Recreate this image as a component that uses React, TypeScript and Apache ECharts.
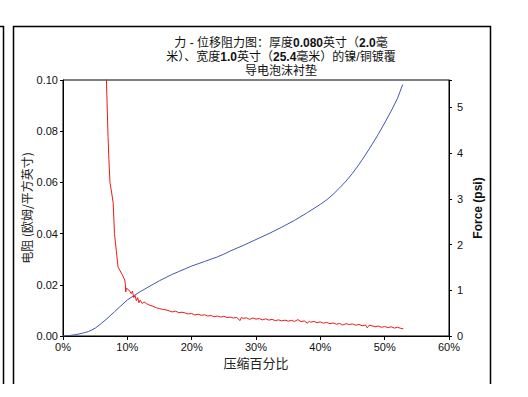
import React, { useEffect, useRef } from "react";
import * as echarts from "echarts";

// Force (psi) vs % compression — right axis
const forcePct = [0, 1, 2, 3, 4, 5, 6, 7, 8, 9, 10, 11, 12, 13, 14, 15, 16, 17, 18, 19, 20, 21, 22, 23, 24, 25, 26, 28, 30, 32, 34, 36, 38, 40, 41, 42, 43, 44, 45, 46, 47, 48, 49, 50, 51, 52, 52.8];
const forceVal = [0, 0.01, 0.03, 0.06, 0.1, 0.17, 0.28, 0.4, 0.53, 0.66, 0.79, 0.88, 0.97, 1.05, 1.13, 1.21, 1.28, 1.35, 1.41, 1.47, 1.53, 1.58, 1.63, 1.68, 1.73, 1.79, 1.86, 1.98, 2.11, 2.24, 2.38, 2.53, 2.7, 2.88, 2.98, 3.1, 3.24, 3.39, 3.56, 3.75, 3.96, 4.18, 4.41, 4.66, 4.92, 5.2, 5.5];

// Resistance (ohm/sq in) vs % compression — left axis
const resPct = [6.6, 6.75, 7.0, 7.1, 7.3, 7.5, 7.8, 8.0, 8.3, 8.55, 8.8, 9.2, 9.6, 9.7, 9.75, 9.85, 10.0, 10.3, 10.6, 10.8, 11.0, 11.2, 11.4, 11.6, 11.8, 12.0, 12.3, 12.6, 13.0, 13.5, 14.0, 14.5, 15.0, 15.5, 16.0, 16.5, 17.0, 17.5, 18.0, 18.5, 19.0, 19.5, 20.0, 20.5, 21.0, 21.5, 22.0, 22.5, 23.0, 23.5, 24.0, 24.5, 25.0, 25.5, 26.0, 26.5, 27.0, 27.5, 27.7, 28.0, 28.5, 29.0, 29.5, 30.0, 30.5, 31.0, 31.5, 32.0, 32.5, 33.0, 33.5, 34.0, 34.5, 35.0, 35.5, 36.0, 36.5, 37.0, 37.5, 38.0, 38.3, 38.5, 39.0, 39.5, 40.0, 40.5, 41.0, 41.5, 42.0, 42.5, 43.0, 43.5, 44.0, 44.5, 45.0, 45.5, 46.0, 46.5, 47.0, 47.3, 47.6, 48.0, 48.5, 49.0, 49.5, 50.0, 50.5, 51.0, 51.5, 52.0, 52.5, 52.9];
const resVal = [0.11, 0.1, 0.078, 0.071, 0.06, 0.057, 0.052, 0.04, 0.033, 0.027, 0.0258, 0.024, 0.0219, 0.02, 0.0172, 0.0188, 0.0183, 0.0178, 0.0166, 0.0175, 0.015, 0.0158, 0.0138, 0.015, 0.013, 0.014, 0.0127, 0.0133, 0.0126, 0.012, 0.0116, 0.011, 0.0107, 0.0104, 0.0102, 0.0098, 0.0094, 0.0097, 0.0091, 0.0093, 0.009, 0.0086, 0.0088, 0.0082, 0.0085, 0.0081, 0.0083, 0.0078, 0.008, 0.0075, 0.0078, 0.0074, 0.0077, 0.0072, 0.0074, 0.007, 0.0073, 0.006, 0.0072, 0.0069, 0.0071, 0.0065, 0.007, 0.0066, 0.0068, 0.0063, 0.0067, 0.0062, 0.0065, 0.006, 0.0063, 0.0059, 0.0062, 0.0058, 0.0061, 0.0057, 0.0064, 0.0056, 0.0059, 0.005, 0.0058, 0.0054, 0.0057, 0.0052, 0.0055, 0.005, 0.0053, 0.0048, 0.0051, 0.0046, 0.0049, 0.0043, 0.0048, 0.0045, 0.0047, 0.0042, 0.0045, 0.004, 0.0043, 0.0032, 0.0042, 0.004, 0.0036, 0.0039, 0.0034, 0.0037, 0.0033, 0.0036, 0.0031, 0.0034, 0.003, 0.0028];

const xTicks = [0, 10, 20, 30, 40, 50, 60];
const leftTicks = [0, 0.02, 0.04, 0.06, 0.08, 0.1];
const rightTicks = [0, 1, 2, 3, 4, 5];

const titleLines = [
  ["力 - 位移阻力图：厚度", "0.080", "英寸（", "2.0", "毫"],
  ["米）、宽度", "1.0", "英寸（", "25.4", "毫米）的镍/铜镀覆"],
  ["导电泡沫衬垫"],
];

export default function App() {
  const ref = useRef<HTMLDivElement>(null);
  useEffect(() => {
    if (!ref.current) return;
    const chart = echarts.init(ref.current, undefined, { renderer: "svg" });
    const titleText = titleLines
      .map((parts) => parts.map((p, i) => (i % 2 === 1 ? `{b|${p}}` : `{n|${p}}`)).join(""))
      .join("\n");
    const latin = "'Liberation Sans', Arial, sans-serif";
    const cjk = "'Liberation Sans', 'Noto Sans CJK SC', sans-serif";
    chart.setOption({
      animation: false,
      backgroundColor: "#ffffff",
      title: {
        text: titleText,
        left: 276,
        top: 31,
        textAlign: "center",
        textStyle: {
          fontSize: 12,
          fontWeight: "normal",
          lineHeight: 14,
          rich: {
            n: { fontFamily: cjk, fontSize: 12, fontWeight: "normal", color: "#111", lineHeight: 14 },
            b: { fontFamily: latin, fontSize: 12, fontWeight: "bold", color: "#111", lineHeight: 14 },
          },
        },
      },
      grid: {
        left: 63,
        right: 79,
        top: 80,
        bottom: 61,
        show: true,
        borderColor: "#000",
        borderWidth: 1,
        backgroundColor: "transparent",
      },
      xAxis: {
        type: "value",
        min: xTicks[0],
        max: xTicks[xTicks.length - 1],
        interval: 10,
        name: "压缩百分比",
        nameLocation: "middle",
        nameGap: 20,
        nameMoveOverlap: false,
        nameTextStyle: { fontFamily: "'Noto Sans CJK SC', sans-serif", fontSize: 13, color: "#222" },
        axisLine: { lineStyle: { color: "#000", width: 1 } },
        axisTick: { length: 4, lineStyle: { color: "#000" } },
        axisLabel: {
          formatter: (v: number) => (xTicks.includes(v) ? `${v}%` : ""),
          fontFamily: latin,
          fontSize: 11,
          color: "#111",
          margin: 5,
        },
        splitLine: { show: false },
      },
      yAxis: [
        {
          type: "value",
          position: "left",
          min: leftTicks[0],
          max: leftTicks[leftTicks.length - 1],
          interval: 0.02,
          name: "电阻 (欧姆/平方英寸)",
          nameLocation: "middle",
          nameGap: 31,
          nameMoveOverlap: false,
          nameTextStyle: { fontFamily: "'Noto Sans CJK SC', sans-serif", fontSize: 12, color: "#222" },
          axisLine: { show: true, lineStyle: { color: "#000", width: 1 } },
          axisTick: { show: true, length: 3, lineStyle: { color: "#000" } },
          axisLabel: {
            formatter: (v: number) => v.toFixed(2),
            fontFamily: latin,
            fontSize: 11,
            color: "#111",
            margin: 5,
          },
          splitLine: { show: false },
        },
        {
          type: "value",
          position: "right",
          min: rightTicks[0],
          max: 5.6,
          interval: 1,
          name: "Force (psi)",
          nameLocation: "middle",
          nameGap: 23,
          nameMoveOverlap: false,
          nameRotate: 90,
          nameTextStyle: { fontFamily: latin, fontSize: 12, fontWeight: "bold", color: "#111" },
          axisLine: { show: true, lineStyle: { color: "#000", width: 1 } },
          axisTick: { show: true, length: 3, lineStyle: { color: "#000" } },
          axisLabel: {
            formatter: (v: number) => (rightTicks.includes(v) ? String(v) : ""),
            fontFamily: latin,
            fontSize: 11,
            color: "#111",
            margin: 8,
          },
          splitLine: { show: false },
        },
      ],
      series: [
        {
          type: "line",
          name: "Force",
          yAxisIndex: 1,
          data: forcePct.map((x, i) => [x, forceVal[i]]),
          showSymbol: false,
          smooth: false,
          lineStyle: { color: "#4456AE", width: 1 },
          itemStyle: { color: "#4456AE" },
          clip: true,
        },
        {
          type: "line",
          name: "Resistance",
          yAxisIndex: 0,
          data: resPct.map((x, i) => [x, resVal[i]]),
          showSymbol: false,
          lineStyle: { color: "#F01818", width: 1 },
          itemStyle: { color: "#F01818" },
          clip: true,
        },
      ],
      graphic: [
        {
          type: "polyline",
          shape: { points: [[13.5, 384], [13.5, 26.5], [490.5, 26.5], [490.5, 384]] },
          style: { stroke: "#000", lineWidth: 1.5, fill: "none" },
          silent: true,
        },
        {
          type: "polyline",
          shape: { points: [[0, 26.5], [3.5, 26.5], [3.5, 384]] },
          style: { stroke: "#000", lineWidth: 1.5, fill: "none" },
          silent: true,
        },
      ],
    });
    return () => chart.dispose();
  }, []);
  return (
    <div
      ref={ref}
      style={{ position: "fixed", left: 0, top: 0, width: 528, height: 397, background: "#fff" }}
    />
  );
}
